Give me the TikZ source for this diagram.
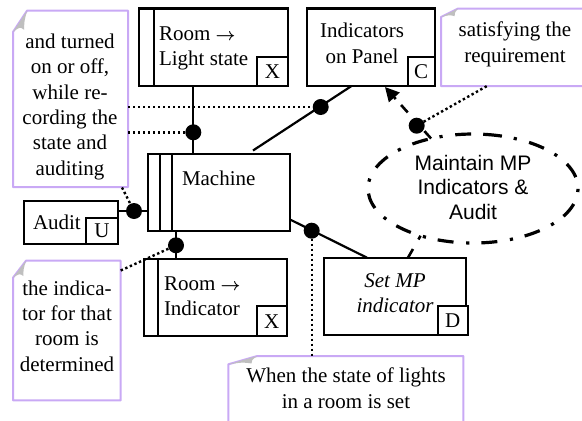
\documentclass[tikz,border=0pt]{standalone}
\usepackage{fontspec}
\setmainfont{Liberation Serif}
\usetikzlibrary{shapes.geometric,calc,arrows.meta}
\definecolor{notecol}{HTML}{C9A9F5}
\newcommand{\roomarrow}{{\fontsize{18}{25}\selectfont\boldmath$\rightarrow$}}
\tikzset{
  x=1pt,y=-1pt,
  txt/.style={font=\fontsize{21}{25.3}\selectfont,inner sep=0pt,outer sep=0pt},
  pbox/.style={draw=black,line width=2.2pt,fill=white,inner sep=0pt,outer sep=0pt},
  tagbox/.style={pbox,txt,anchor=south east},
  notebox/.style={inner sep=0pt,outer sep=0pt},
  noteline/.style={draw=notecol,line width=2pt,fill=white,line join=round},
  foldfill/.style={fill=black!25,draw=none},
  stripe/.style={line width=2.2pt},
  conn/.style={line width=2.2pt},
  dotconn/.style={line width=2.4pt,dash pattern=on 2.4pt off 2.6pt},
  blob/.style={circle,fill=black,draw=none,minimum size=16pt,inner sep=0pt,outer sep=0pt},
}
\newcommand{\notedraw}[3]{%
  \draw[noteline] ($(#1.north west)+(#2,0)$) -- (#1.north east) -- (#1.south east) -- (#1.south west) -- ($(#1.north west)+(0,#3)$) -- cycle;
  \fill[foldfill] ($(#1.north west)+(0,#3)$) -- ($(#1.north west)+(#2,0)$) .. controls ($(#1.north west)+(0.8*#2,0.5*#3)$) .. ($(#1.north west)+(0.8*#2,0.9*#3)$) .. controls ($(#1.north west)+(0.5*#2,0.75*#3)$) .. cycle;
}
\begin{document}
\begin{tikzpicture}
\useasboundingbox (0,0) rectangle (582,421);
\clip (0,0) rectangle (582,421);
% note shapes
\node[notebox,minimum width=115pt,minimum height=176.3pt] (n1) at (70.5,98.85) {};
\node[notebox,minimum width=107.7pt,minimum height=139.6pt] (n2) at (66.85,330.5) {};
\node[notebox,minimum width=160pt,minimum height=77.5pt] (n3) at (521,47.25) {};
\node[notebox,minimum width=235pt,minimum height=90pt] (n4) at (345.8,401) {};
% boxes
\node[pbox,minimum width=149.3pt,minimum height=77.5pt] (r1) at (213.35,47.25) {};
\node[pbox,minimum width=127.7pt,minimum height=77.5pt] (ind) at (370.85,47.25) {};
\node[pbox,minimum width=142.3pt,minimum height=77pt] (mach) at (218.85,192.5) {};
\node[pbox,minimum width=94.3pt,minimum height=43pt] (aud) at (70.85,222.5) {};
\node[pbox,minimum width=143pt,minimum height=77pt] (r2) at (215.2,297.8) {};
\node[pbox,minimum width=142pt,minimum height=77.3pt] (setmp) at (395,296.35) {};
\node[draw=none,ellipse,minimum width=210pt,minimum height=109pt,inner sep=0pt,outer sep=0pt] (ell) at (473,188.5) {};
% stripes
\draw[stripe] ($(r1.north west)+(15,0)$) -- ($(r1.south west)+(15,0)$);
\draw[stripe] ($(r2.north west)+(14,0)$) -- ($(r2.south west)+(14,0)$);
\draw[stripe] ($(mach.north west)+(12,0)$) -- ($(mach.south west)+(12,0)$);
\draw[stripe] ($(mach.north west)+(24.3,0)$) -- ($(mach.south west)+(24.3,0)$);
% ellipse, started at the top so that its dashes fall as in the original
\draw[line width=3.2pt,dash pattern=on 16pt off 12pt on 3.2pt off 12.7pt]
  ($(ell.center)+(13,-54.07)$) arc [start angle=82.9,delta angle=-360,x radius=105pt,y radius=54.5pt];
% tags
\node[tagbox,minimum width=31.3pt,minimum height=29.3pt] (tx1) at (r1.south east) {X};
\node[tagbox,minimum width=27pt,minimum height=29.3pt] (tc) at (ind.south east) {C};
\node[tagbox,minimum width=32.3pt,minimum height=26pt] (tu) at (aud.south east) {U};
\node[tagbox,minimum width=30pt,minimum height=30.3pt] (tx2) at (r2.south east) {X};
\node[tagbox,minimum width=30pt,minimum height=29pt] (td) at ($(setmp.south east)+(1.7,0)$) {D};
% notes
\notedraw{n1}{14}{21.3}
\notedraw{n2}{13}{17}
\notedraw{n3}{17}{8.5}
\notedraw{n4}{29}{8.3}
% dots
\node[blob] (d1) at (193.3,132.3) {};
\node[blob] (d2) at (320.7,107) {};
\node[blob] (d3) at (416.7,125.7) {};
\node[blob] (d4) at (134,211) {};
\node[blob] (d5) at (176,245.3) {};
\node[blob] (d6) at (311.7,230.7) {};
\coordinate (mtop) at (253,150.5);
\coordinate (indlow) at (351.5,86);
\coordinate (mright) at (290,219.5);
\coordinate (settop) at (367,257.7);
\coordinate (tip) at (385,87);
\coordinate (setdash) at (408,257.7);
\coordinate (n1low) at (122,187.5);
\coordinate (n2high) at (120.7,270.5);
\coordinate (n3low) at (487,86);
% connectors
\draw[conn] (d1 |- r1.south) -- (d1 |- mach.north);
\draw[conn] (mtop) -- (indlow);
\draw[conn] (aud.east |- d4) -- (mach.west |- d4);
\draw[conn] (d5 |- mach.south) -- (d5 |- r2.north);
\draw[conn] (mright) -- (settop);
\draw[dotconn] (n1.east |- d2) -- (d2);
\draw[dotconn] (n1.east |- d1) -- (d1);
\draw[dotconn] (n1low) -- (d4);
\draw[dotconn] (n2high) -- (d5);
\draw[dotconn] (d6) -- (d6 |- n4.north);
\draw[dotconn] (d3) -- (n3low);
\draw[line width=2.6pt,dash pattern=on 10pt off 25pt on 10pt off 8pt on 30pt,-{Triangle[length=14pt,width=14pt]}] (ell.130) -- (tip);
\draw[line width=2.6pt,dash pattern=on 10pt off 11pt on 10pt] (setdash) -- (ell.222);
% labels
\node[txt,anchor=base west] (l1) at (159,40) {Room \roomarrow};
\node[txt,anchor=base west] (l1b) at (159,65) {Light state};
\node[txt,align=center,anchor=base] (l2) at (362,63) {Indicators\\on Panel};
\node[txt,align=center,anchor=base] (l3) at (515,62) {satisfying the\\requirement};
\node[txt,align=center,anchor=base] (l4) at (70,175) {and turned\\on or off,\\while re-\\cording the\\state and\\auditing};
\node[txt,anchor=base west] (l5) at (182,185) {Machine};
\node[txt,anchor=base west] (l6) at (33,229) {Audit};
\node[txt,anchor=base west] (l7) at (164,290) {Room \roomarrow};
\node[txt,anchor=base west] (l7b) at (164,315) {Indicator};
\node[txt,align=center,anchor=base] (l8) at (67,371) {the indica-\\tor for that\\room is\\determined};
\node[txt,align=center,anchor=base,font=\fontsize{21}{25}\selectfont\itshape] (l9) at (395,312) {Set MP\\indicator};
\node[txt,align=center,anchor=base] (l10) at (346,408) {When the state of lights\\in a room is set};
\node[txt,align=center,anchor=base,font=\fontsize{21}{24.5}\selectfont\fontspec{Liberation Sans}] (l11) at (473,219) {Maintain MP\\Indicators \&\\Audit};
\end{tikzpicture}
\end{document}
